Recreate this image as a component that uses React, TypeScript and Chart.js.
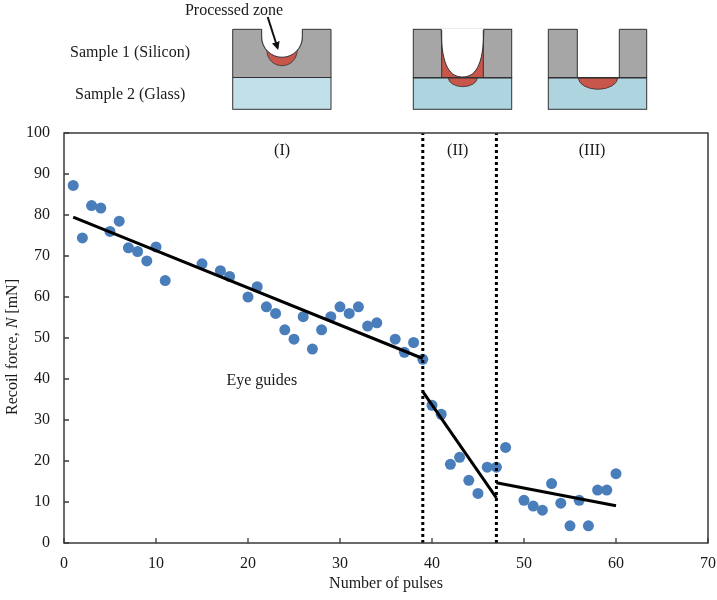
import React, { useEffect, useRef } from "react";
import { Chart, registerables } from "chart.js";

Chart.register(...registerables);

// ---- data ----
const pulses = [1, 2, 3, 4, 5, 6, 7, 8, 9, 10, 11, 15, 17, 18, 20, 21, 22, 23, 24, 25, 26, 27, 28, 29, 30, 31, 32, 33, 34, 36, 37, 38, 39, 40, 41, 42, 43, 44, 45, 46, 47, 48, 50, 51, 52, 53, 54, 55, 56, 57, 58, 59, 60];
const recoilForce = [87.2, 74.4, 82.3, 81.7, 76.0, 78.5, 72.0, 71.1, 68.8, 72.2, 64.0, 68.1, 66.4, 65.0, 60.0, 62.5, 57.6, 56.0, 52.0, 49.7, 55.2, 47.3, 52.0, 55.2, 57.6, 56.0, 57.6, 52.9, 53.7, 49.7, 46.5, 48.9, 44.8, 33.6, 31.4, 19.2, 20.9, 15.3, 12.1, 18.5, 18.5, 23.3, 10.4, 9.0, 8.0, 14.5, 9.7, 4.2, 10.4, 4.2, 12.9, 12.9, 16.9];

const guide1X = [1, 39];
const guide1Y = [79.5, 45.0];
const guide2X = [39, 47];
const guide2Y = [36.9, 11.0];
const guide3X = [47, 60];
const guide3Y = [14.7, 9.1];

const dividerX = [39, 47];
const dividerY = [0, 100];

const regionLabels = ["(I)", "(II)", "(III)"];
const regionLabelX = [23.7, 42.8, 57.4];
const regionLabelY = 95.7;
const guideLabel = "Eye guides";
const guideLabelX = 21.5;
const guideLabelY = 39.5;

const xTitle = "Number of pulses";
const yTitleParts = ["Recoil force, ", "N", " [mN]"];

const FONT = '"Liberation Serif", "Times New Roman", serif';

function pts(xs: number[], ys: number[]) {
  return xs.map((x, i) => ({ x, y: ys[i] }));
}

const decorPlugin = {
  id: "decor",
  afterDraw(chart: any) {
    const { ctx, chartArea: a, scales } = chart;
    const xs = scales.x;
    const ys = scales.y;
    ctx.save();
    // box
    ctx.strokeStyle = "#3a3a3a";
    ctx.lineWidth = 1.5;
    ctx.strokeRect(a.left, a.top, a.right - a.left, a.bottom - a.top);
    // inward ticks
    ctx.lineWidth = 1.3;
    ctx.beginPath();
    ys.ticks.forEach((t: any) => {
      const py = ys.getPixelForValue(t.value);
      ctx.moveTo(a.left, py);
      ctx.lineTo(a.left + 5, py);
    });
    xs.ticks.forEach((t: any) => {
      const px = xs.getPixelForValue(t.value);
      ctx.moveTo(px, a.bottom);
      ctx.lineTo(px, a.bottom - 5);
    });
    ctx.stroke();
    // labels
    ctx.fillStyle = "#1a1a1a";
    ctx.font = `16px ${FONT}`;
    ctx.textAlign = "center";
    ctx.textBaseline = "middle";
    regionLabels.forEach((l, i) => {
      ctx.fillText(l, xs.getPixelForValue(regionLabelX[i]), ys.getPixelForValue(regionLabelY));
    });
    ctx.fillText(guideLabel, xs.getPixelForValue(guideLabelX), ys.getPixelForValue(guideLabelY));
    // x title
    ctx.textBaseline = "alphabetic";
    ctx.fillText(xTitle, (a.left + a.right) / 2, 588);
    // y title with italic N
    ctx.translate(16.5, 347);
    ctx.rotate(-Math.PI / 2);
    const fonts = [`16px ${FONT}`, `italic 16px ${FONT}`, `16px ${FONT}`];
    const widths = yTitleParts.map((p, i) => {
      ctx.font = fonts[i];
      return ctx.measureText(p).width;
    });
    const total = widths.reduce((s, w) => s + w, 0);
    let cx = -total / 2;
    ctx.textAlign = "left";
    yTitleParts.forEach((p, i) => {
      ctx.font = fonts[i];
      ctx.fillText(p, cx, 0);
      cx += widths[i];
    });
    ctx.restore();
  },
};

function Schematic() {
  const stroke = "#333";
  const gray = "#a6a6a6";
  const red = "#c8564a";
  const glass1 = "#c2e0ea";
  const glass = "#aed4e0";
  return (
    <svg width={717} height={120} style={{ position: "absolute", left: 0, top: 0 }}>
      <defs>
        <marker id="ah" markerWidth="8" markerHeight="8" refX="6" refY="4" orient="auto" markerUnits="userSpaceOnUse">
          <path d="M0,0 L8,4 L0,8 Z" fill="#111" />
        </marker>
      </defs>
      <g fontFamily={FONT} fontSize={16} fill="#1a1a1a">
        <text x={234} y={15} textAnchor="middle">Processed zone</text>
        <text x={70} y={57}>Sample 1 (Silicon)</text>
        <text x={75} y={99}>Sample 2 (Glass)</text>
      </g>
      {/* sample A */}
      <rect x={232.7} y={77.5} width={98.3} height={31.8} fill={glass1} stroke={stroke} strokeWidth={1} />
      <path d="M232.7,29.3 L261.7,29.3 L261.7,37 A20.3,20.3 0 0 0 302.3,37 L302.3,29.3 L331,29.3 L331,77.5 L232.7,77.5 Z" fill={gray} stroke={stroke} strokeWidth={1} />
      <path d="M266.7,50.3 C268,70.8 296,70.8 297.3,50.3 Z" fill={red} stroke={stroke} strokeWidth={0.8} />
      <path d="M261.7,29.3 L261.7,37 A20.3,20.3 0 0 0 302.3,37 L302.3,29.3 Z" fill="#fff" stroke="none" />
      <path d="M261.7,29.3 L261.7,37 A20.3,20.3 0 0 0 302.3,37 L302.3,29.3" fill="none" stroke={stroke} strokeWidth={1} />
      <line x1={267.7} y1={17} x2={277.6} y2={48} stroke="#111" strokeWidth={2} markerEnd="url(#ah)" />
      {/* sample B */}
      <rect x={413.3} y={77.7} width={98.4} height={31.6} fill={glass} stroke={stroke} strokeWidth={1} />
      <path d="M448.3,77.7 A14.5,9 0 0 0 477.3,77.7 Z" fill={red} stroke={stroke} strokeWidth={0.8} />
      <rect x={413.3} y={29.3} width={98.4} height={48.4} fill={gray} stroke={stroke} strokeWidth={1} />
      <rect x={441.7} y={29.3} width={41.6} height={48.4} fill={red} stroke="none" />
      <path d="M441.2,29.3 C441.2,68 451,77 462.5,77 C474,77 483.8,68 483.8,29.3 Z" fill="#fff" stroke="none" />
      <path d="M441.2,29.3 C441.2,68 451,77 462.5,77 C474,77 483.8,68 483.8,29.3" fill="none" stroke={stroke} strokeWidth={1} />
      <line x1={441.7} y1={29.3} x2={441.7} y2={77.7} stroke={stroke} strokeWidth={1} />
      <line x1={483.3} y1={29.3} x2={483.3} y2={77.7} stroke={stroke} strokeWidth={1} />
      <line x1={441.7} y1={29.3} x2={483.3} y2={29.3} stroke="#fff" strokeWidth={1.5} />
      <line x1={413.3} y1={77.7} x2={511.7} y2={77.7} stroke={stroke} strokeWidth={1.2} />
      {/* sample C */}
      <rect x={548.3} y={77.7} width={98.4} height={31.6} fill={glass} stroke={stroke} strokeWidth={1} />
      <path d="M578.3,77.7 A19.7,11.6 0 0 0 617.7,77.7 Z" fill={red} stroke={stroke} strokeWidth={0.8} />
      <path d="M548.3,29.3 L577.3,29.3 L577.3,77.7 L619.3,77.7 L619.3,29.3 L646.7,29.3 L646.7,77.7 L548.3,77.7 Z" fill={gray} stroke={stroke} strokeWidth={1} />
      <line x1={548.3} y1={77.7} x2={646.7} y2={77.7} stroke={stroke} strokeWidth={1.2} />
    </svg>
  );
}

export default function App() {
  const ref = useRef<HTMLCanvasElement | null>(null);
  useEffect(() => {
    if (!ref.current) return;
    const lineDs = (data: any, dash?: number[]) => ({
      type: "line" as const,
      data,
      showLine: true,
      borderColor: "#000",
      borderWidth: 3,
      borderDash: dash || [],
      borderCapStyle: "butt",
      pointRadius: 0,
      fill: false,
      clip: false,
    });
    const chart = new Chart(ref.current, {
      type: "scatter",
      data: {
        datasets: [
          lineDs(pts([dividerX[0], dividerX[0]], dividerY), [3, 3]),
          lineDs(pts([dividerX[1], dividerX[1]], dividerY), [3, 3]),
          lineDs(pts(guide1X, guide1Y)),
          lineDs(pts(guide2X, guide2Y)),
          lineDs(pts(guide3X, guide3Y)),
          {
            data: pts(pulses, recoilForce),
            pointRadius: 5.5,
            pointBackgroundColor: "#4a7ebb",
            pointBorderColor: "#4a7ebb",
            pointBorderWidth: 0,
            showLine: false,
          } as any,
        ] as any,
      },
      options: {
        responsive: false,
        animation: false,
        devicePixelRatio: 1,
        layout: { padding: { top: 133, right: 9, left: 0, bottom: 0 } },
        plugins: { legend: { display: false }, tooltip: { enabled: false } },
        scales: {
          x: {
            type: "linear",
            min: 0,
            max: 70,
            ticks: { stepSize: 10, padding: 11, color: "#1a1a1a", font: { family: FONT, size: 16 } },
            grid: { display: false, drawTicks: false },
            border: { display: false },
            afterFit: (s: any) => { s.height = 57; s.paddingRight = 0; s.paddingLeft = 0; },
          },
          y: {
            type: "linear",
            min: 0,
            max: 100,
            ticks: { stepSize: 10, padding: 14, color: "#1a1a1a", font: { family: FONT, size: 16 } },
            grid: { display: false, drawTicks: false },
            border: { display: false },
            afterFit: (s: any) => { s.width = 64; s.paddingTop = 0; s.paddingBottom = 0; },
          },
        },
      } as any,
      plugins: [decorPlugin],
    });
    return () => chart.destroy();
  }, []);
  return (
    <div style={{ position: "absolute", left: 0, top: 0, width: 717, height: 600, background: "#fff" }}>
      <canvas ref={ref} width={717} height={600} style={{ position: "absolute", left: 0, top: 0 }} />
      <Schematic />
    </div>
  );
}
